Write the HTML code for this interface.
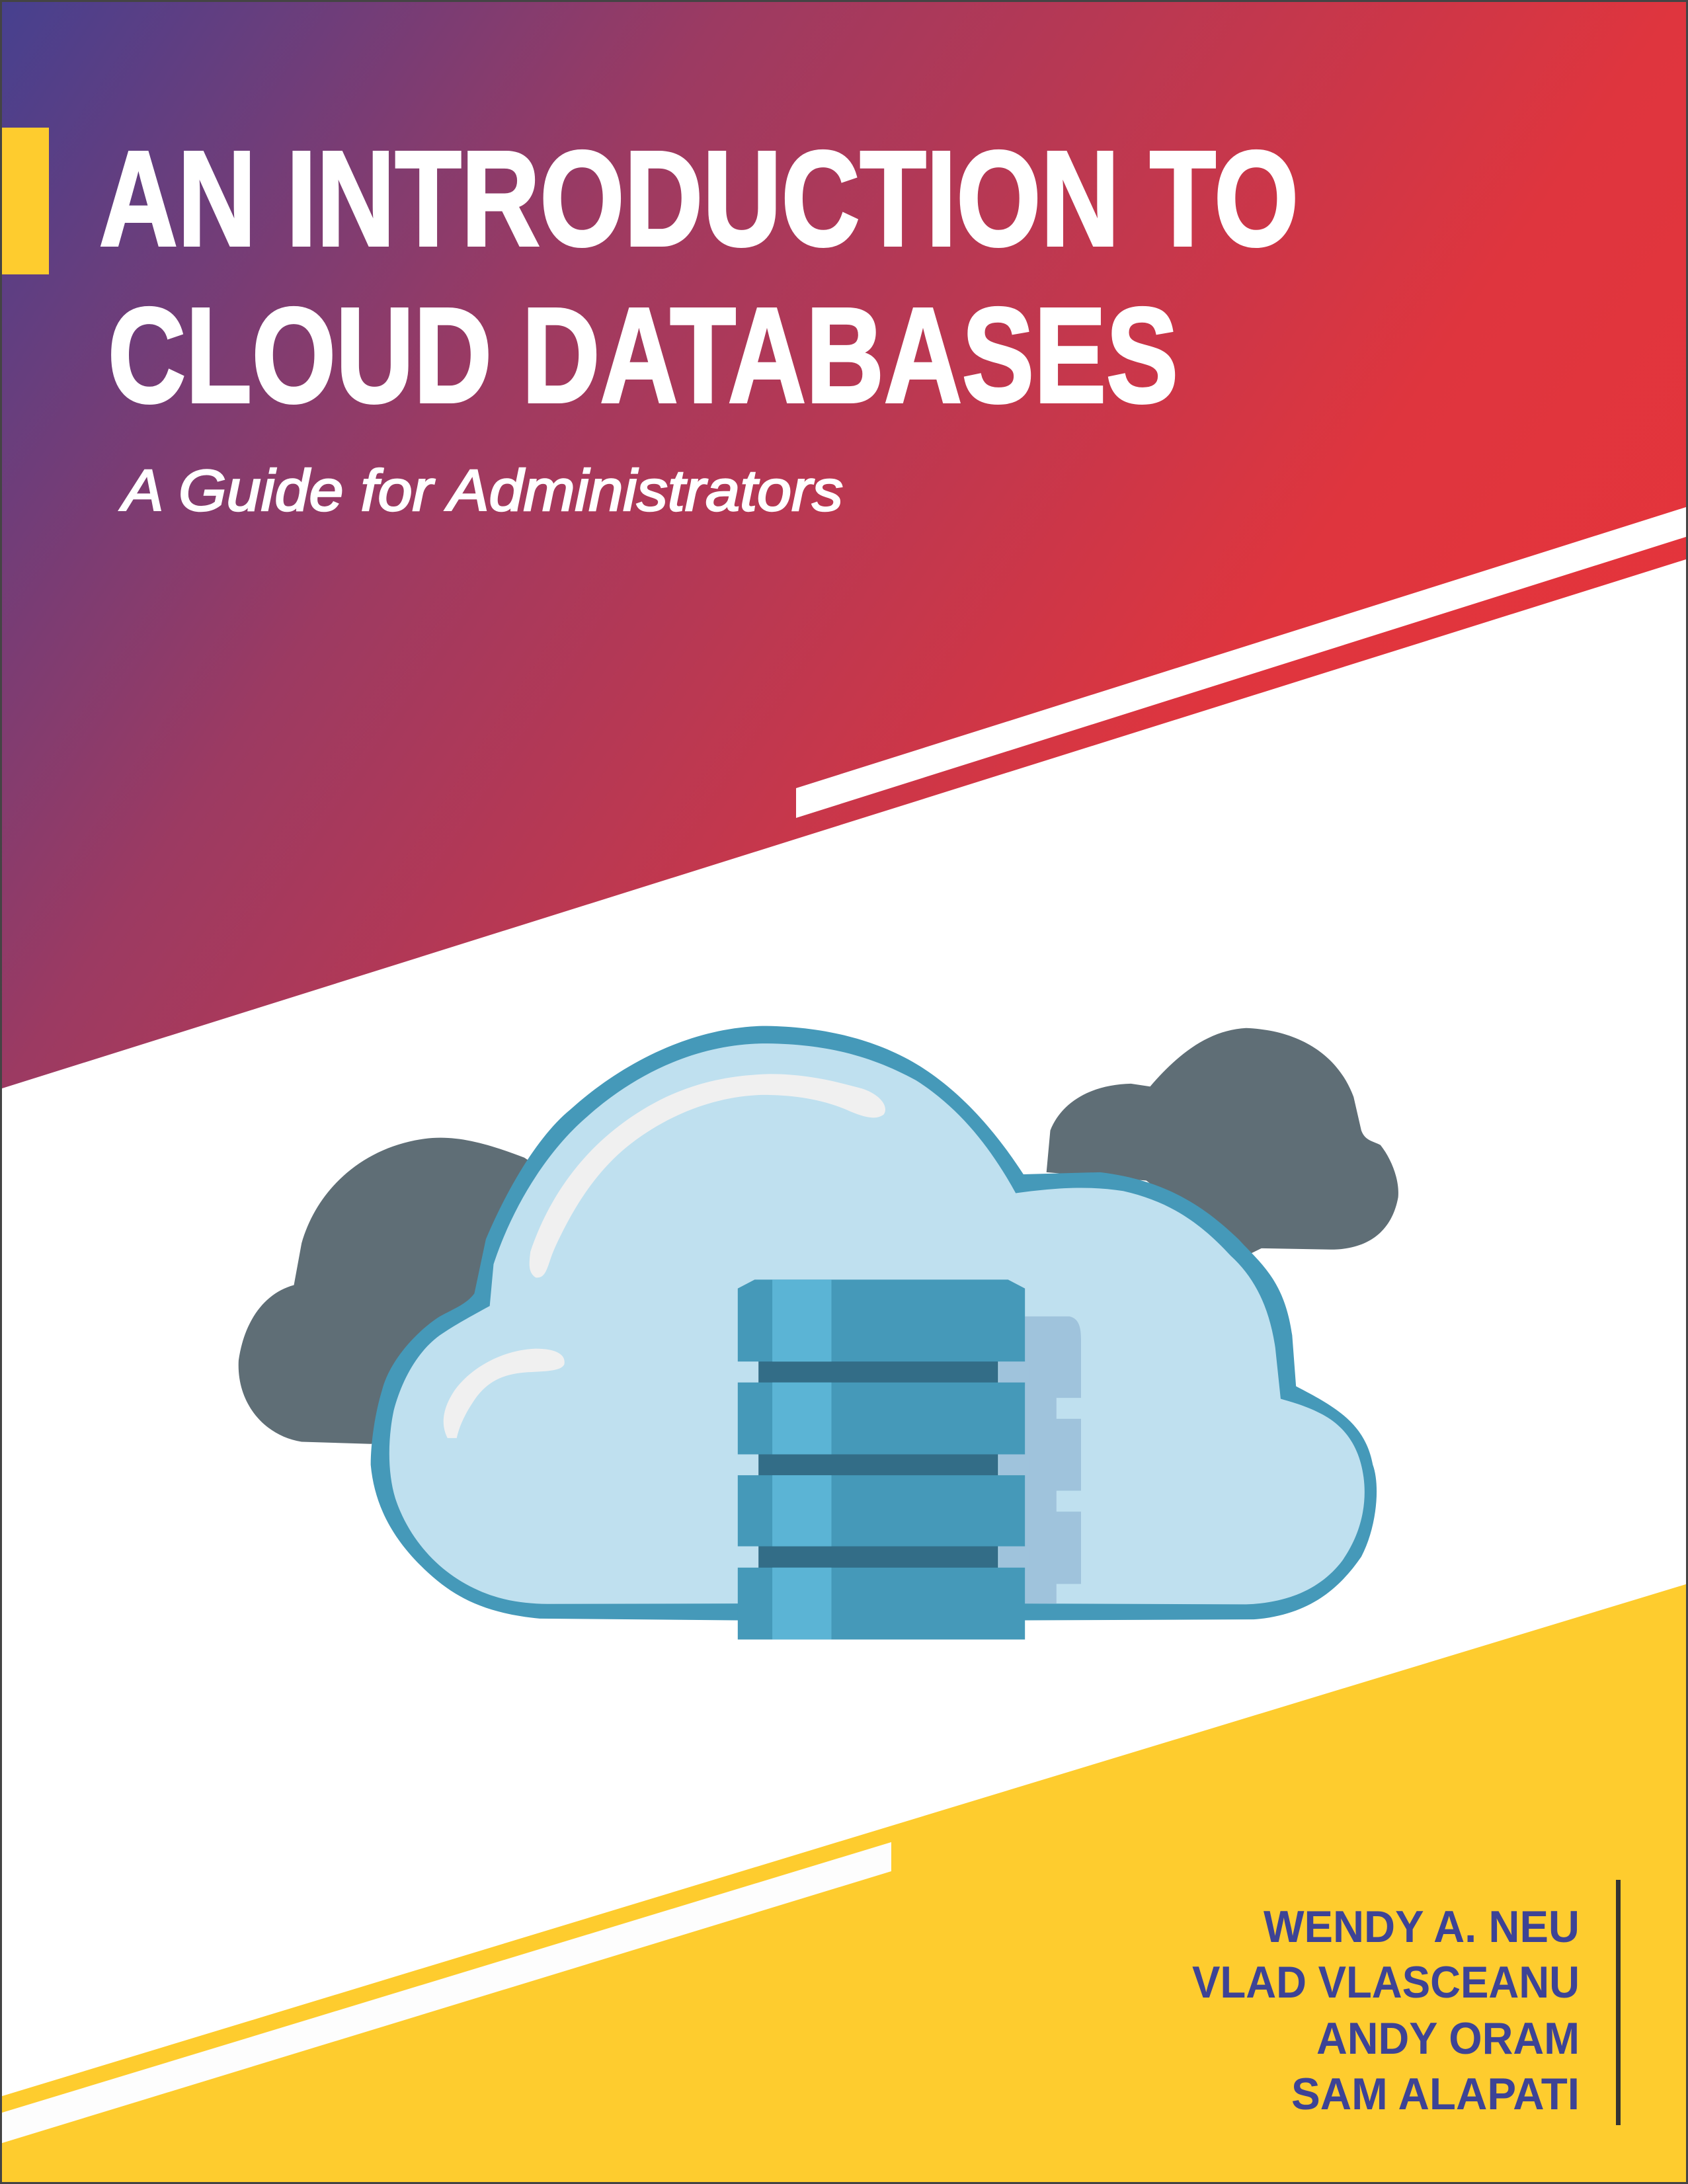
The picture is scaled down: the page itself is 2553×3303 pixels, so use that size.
<!DOCTYPE html>
<html><head><meta charset="utf-8"><style>
html,body{margin:0;padding:0;background:#fff;}
svg{display:block;}
</style></head><body>
<svg width="2553" height="3303" viewBox="0 0 2553 3303" xmlns="http://www.w3.org/2000/svg">
<defs>
<linearGradient id="g" gradientUnits="userSpaceOnUse" x1="0" y1="0" x2="2553" y2="1700">
<stop offset="0" stop-color="#46408f"/>
<stop offset="0.3" stop-color="#9c3a62"/>
<stop offset="0.69" stop-color="#df353e"/>
<stop offset="1" stop-color="#e8343a"/>
</linearGradient>
</defs>
<rect width="2553" height="3303" fill="#fff"/>
<polygon points="0,0 2553,0 2553,845 0,1647" fill="url(#g)"/>
<polygon points="1204,1192 2553,766 2553,811 1204,1237" fill="#fff"/>
<polygon points="0,3171 2553,2395 2553,3303 0,3303" fill="#fecc2e"/>
<polygon points="0,3196 1348,2786 1348,2830 0,3242" fill="#fdfdfd"/>
<rect x="0" y="193" width="74" height="222" fill="#fecc2e"/>

<g font-family="Liberation Sans, sans-serif" fill="#fff" stroke="#fff" stroke-width="4" font-weight="bold">
<text x="150" y="371" font-size="205" textLength="1814" lengthAdjust="spacingAndGlyphs">AN INTRODUCTION TO</text>
<text x="163" y="608" font-size="205" textLength="1619" lengthAdjust="spacingAndGlyphs">CLOUD DATABASES</text>
</g>
<text x="185" y="772" font-family="Liberation Sans, sans-serif" font-style="italic" font-size="88" fill="#fff" stroke="#fff" stroke-width="2.5" textLength="1090" lengthAdjust="spacingAndGlyphs">A Guide for Administrators</text>

<g font-family="Liberation Sans, sans-serif" font-weight="bold" fill="#3d4395" font-size="68">
<text x="1911" y="2937" textLength="478" lengthAdjust="spacingAndGlyphs">WENDY A. NEU</text>
<text x="1803" y="3021" textLength="586" lengthAdjust="spacingAndGlyphs">VLAD VLASCEANU</text>
<text x="1991" y="3106" textLength="398" lengthAdjust="spacingAndGlyphs">ANDY ORAM</text>
<text x="1953" y="3190" textLength="436" lengthAdjust="spacingAndGlyphs">SAM ALAPATI</text>
</g>
<rect x="2444" y="2843" width="7" height="371" fill="#333"/>

<g transform="translate(340,1520) scale(1.1614,0.6321)">
<path d="M390,365 C340,330 300,310 260,320 C180,340 120,440 100,570 L90,670 C50,690 25,760 18,850 C15,950 50,1030 100,1045 L190,1050 L450,1000 L500,500 Z" fill="#5f6e76"/>
<path d="M1070,400 L1075,300 C1090,230 1130,190 1180,188 L1205,195 C1240,120 1280,60 1330,55 C1400,60 1450,120 1470,220 L1480,300 C1485,325 1495,325 1505,335 C1520,370 1530,420 1528,460 C1520,540 1490,585 1440,585 L1350,582 L1330,600 L1200,420 Z" fill="#5f6e76"/>
<path d="M700,50 C600,55 510,150 450,250 C410,310 370,430 340,560 L325,690 C315,715 300,725 280,745 C250,780 215,850 205,920 C195,980 190,1050 190,1100 C195,1200 220,1280 260,1350 C300,1420 340,1455 410,1468 L665,1472 L1045,1472 L1340,1470 C1410,1460 1450,1400 1480,1320 C1500,1250 1505,1150 1495,1100 C1485,1000 1445,960 1395,912 L1390,790 C1380,660 1350,620 1320,560 C1280,490 1230,420 1140,400 L1040,405 C1010,320 960,200 890,130 C830,70 760,50 700,50 Z" fill="#4599b9"/>
<path d="M700,92 C610,95 530,170 470,270 C420,350 375,480 350,620 L345,720 C320,745 300,765 280,790 C250,830 230,900 220,970 C212,1040 212,1120 222,1180 C240,1280 280,1360 330,1400 C360,1425 390,1432 420,1433 L665,1432 L1045,1432 L1330,1434 C1390,1430 1430,1390 1455,1330 C1478,1270 1488,1200 1483,1130 C1478,1060 1460,1010 1430,980 C1410,960 1390,950 1375,942 L1368,820 C1360,720 1340,650 1310,600 C1270,520 1230,470 1170,445 C1120,430 1070,440 1030,450 C1000,350 960,250 900,180 C840,120 780,92 700,92 Z" fill="#bfe0ef"/>
<path d="M405,652 C395,640 396,620 398,590 C420,470 460,360 520,280 C580,200 640,168 710,165 C760,165 800,185 830,200 C855,215 865,245 858,262 C848,275 835,270 815,255 C780,225 740,215 700,215 C640,218 580,260 530,330 C480,400 450,500 430,580 C420,620 420,655 405,652 Z" fill="#f0f0f0"/>
<path d="M290,1036 C280,1000 285,960 300,920 C320,870 360,825 405,822 C430,822 445,835 442,860 C438,875 420,876 400,878 C360,880 340,905 325,945 C312,980 305,1010 302,1036 Z" fill="#f0f0f0"/>
<path d="M1042,745 L1100,745 C1112,750 1115,770 1115,800 L1115,940 L1083,940 L1083,990 L1115,990 L1115,1162 L1083,1162 L1083,1212 L1115,1212 L1115,1385 L1083,1385 L1083,1432 L1042,1432 Z" fill="#9fc3dc"/>
<rect x="1008" y="850" width="40" height="60" fill="#9fc3dc"/>
<rect x="1008" y="1072" width="40" height="60" fill="#9fc3dc"/>
<rect x="1008" y="1293" width="40" height="60" fill="#9fc3dc"/>
<rect x="695" y="850" width="312" height="56" fill="#336d87"/>
<rect x="695" y="1072" width="312" height="56" fill="#336d87"/>
<rect x="695" y="1293" width="312" height="56" fill="#336d87"/>
<g fill="#4599b9">
<path d="M668,678 L690,657 L1020,657 L1042,678 L1042,853 L668,853 Z"/>
<rect x="668" y="903" width="374" height="172"/>
<rect x="668" y="1125" width="374" height="170"/>
<rect x="668" y="1346" width="374" height="172"/>
</g>
<g fill="#5bb4d5">
<rect x="713" y="657" width="77" height="196"/>
<rect x="713" y="903" width="77" height="172"/>
<rect x="713" y="1125" width="77" height="170"/>
<rect x="713" y="1346" width="77" height="172"/>
</g>
</g>
<rect x="1.5" y="1.5" width="2550" height="3300" fill="none" stroke="#444" stroke-width="3"/>
</svg>
</body></html>
